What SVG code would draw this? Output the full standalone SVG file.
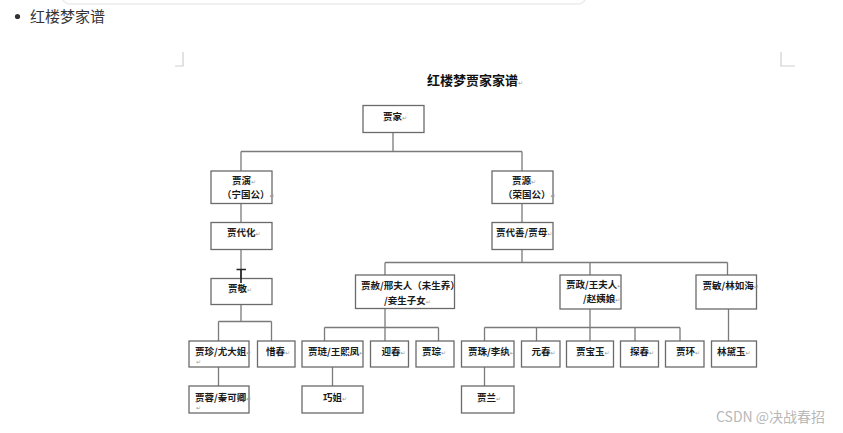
<svg xmlns="http://www.w3.org/2000/svg" width="843" height="433" viewBox="0 0 843 433">
<style>
.box{fill:#fff;stroke:#6a6a6a;stroke-width:1.3}
.ln{fill:none;stroke:#7a7a7a;stroke-width:1.3}
.t{font-family:"Noto Sans CJK SC","Noto Sans",sans-serif;font-size:9.5px;font-weight:700;fill:#1a1a1a}
.pm{font-family:"DejaVu Sans",sans-serif;font-size:6px;font-weight:400;fill:#9a9a9a}
.mark{fill:none;stroke:#cfcfcf;stroke-width:1.2}
</style>
<rect width="843" height="433" fill="#fff"/>
<rect x="62" y="-24" width="524" height="28" rx="8" fill="#fff" stroke="#ececec" stroke-width="1.5"/>
<circle cx="17.5" cy="16.5" r="2.6" fill="#333"/>
<text x="30" y="22" font-family="'Noto Sans CJK SC',sans-serif" font-size="15" fill="#333">红楼梦家谱</text>
<path class="mark" d="M183,52 V66 H175"/>
<path class="mark" d="M781,52 V66 H795"/>
<text x="427" y="85" font-family="'Noto Sans CJK SC',sans-serif" font-size="13" font-weight="700" fill="#111">红楼梦贾家家谱<tspan class="pm">↵</tspan></text>

<g id="connectors">
<path class="ln" d="M393,132.5 V151.5 M241,151.5 H522 M241,151.5 V171 M522,151.5 V171"/>
<path class="ln" d="M241,203.5 V222.5 M522,203.5 V222.5 M241,249.5 V278.5 M522,249.5 V262.5"/>
<path class="ln" d="M385,262.5 H727.5 M385,262.5 V275 M590,262.5 V275 M727.5,262.5 V275"/>
<path class="ln" d="M241,304.5 V321.5 M218.5,321.5 H271.5 M218.5,321.5 V341 M271.5,321.5 V341 M218.5,367 V386"/>
<path class="ln" d="M385,308.5 V341 M324.5,327.5 H438.5 M324.5,327.5 V341 M438.5,327.5 V341 M332.5,367 V386"/>
<path class="ln" d="M590,309 V341 M484.5,327.5 H680 M484.5,327.5 V341 M536.5,327.5 V341 M635,327.5 V341 M680,327.5 V341 M484.5,367 V386"/>
<path class="ln" d="M728.5,309 V341"/>
</g>

<g id="jia_jia"><rect class="box" x="363" y="105.5" width="61" height="27"/><text class="t" x="383" y="119.5">贾家<tspan class="pm">↵</tspan></text></g>
<g id="jia_yan"><rect class="box" x="211" y="171" width="61" height="32.5"/><text class="t" x="232" y="184">贾演<tspan class="pm">↵</tspan></text><text class="t" x="222" y="197.5">（宁国公）<tspan class="pm">↵</tspan></text></g>
<g id="jia_yuan"><rect class="box" x="492" y="171" width="61" height="32.5"/><text class="t" x="512" y="184">贾源<tspan class="pm">↵</tspan></text><text class="t" x="503" y="197.5">（荣国公）<tspan class="pm">↵</tspan></text></g>
<g id="jia_daihua"><rect class="box" x="211" y="222.5" width="61" height="27"/><text class="t" x="227" y="236">贾代化<tspan class="pm">↵</tspan></text></g>
<g id="jia_daishan"><rect class="box" x="492" y="222.5" width="61" height="27"/><text class="t" x="496" y="236">贾代善/贾母<tspan class="pm">↵</tspan></text></g>
<g id="jia_jing"><rect class="box" x="211" y="278.5" width="61" height="26"/><text class="t" x="228" y="291.5">贾敬<tspan class="pm">↵</tspan></text></g>
<g id="cursor"><path d="M236.5,269.5 H246 M241,269.5 V283" fill="none" stroke="#222" stroke-width="1.6"/></g>
<g id="jia_she"><rect class="box" x="355.5" y="275" width="99" height="33.5"/><text class="t" x="361" y="288.5">贾赦/邢夫人（未生养）</text><text class="t" x="384" y="303.5">/妾生子女<tspan class="pm">↵</tspan></text></g>
<g id="jia_zheng"><rect class="box" x="560" y="275" width="61" height="34"/><text class="t" x="566" y="288">贾政/王夫人<tspan class="pm">↵</tspan></text><text class="t" x="583" y="302">/赵姨娘<tspan class="pm">↵</tspan></text></g>
<g id="jia_min"><rect class="box" x="696" y="275" width="60.5" height="34"/><text class="t" x="702.5" y="288.5">贾敏/林如海<tspan class="pm">↵</tspan></text></g>
<g id="jia_zhen"><rect class="box" x="189" y="341" width="60" height="26"/><text class="t" x="195" y="354.5">贾珍/尤大姐<tspan class="pm">↵</tspan></text><text class="pm" x="196" y="364">↵</text></g>
<g id="xichun"><rect class="box" x="257.5" y="341" width="37.5" height="26"/><text class="t" x="266" y="354.5">惜春<tspan class="pm">↵</tspan></text></g>
<g id="jia_rong"><rect class="box" x="189" y="386" width="60" height="27"/><text class="t" x="195" y="401">贾蓉/秦可卿<tspan class="pm">↵</tspan></text><text class="pm" x="196" y="410">↵</text></g>
<g id="jia_lian"><rect class="box" x="302" y="341" width="61" height="26"/><text class="t" x="308" y="354.5">贾琏/王熙凤<tspan class="pm">↵</tspan></text></g>
<g id="yingchun"><rect class="box" x="370.5" y="341" width="38" height="26"/><text class="t" x="381.5" y="354.5">迎春<tspan class="pm">↵</tspan></text></g>
<g id="jia_cong"><rect class="box" x="416" y="341" width="38" height="26"/><text class="t" x="422" y="354.5">贾琮<tspan class="pm">↵</tspan></text></g>
<g id="qiaojie"><rect class="box" x="302" y="386" width="61" height="27"/><text class="t" x="323" y="401">巧姐<tspan class="pm">↵</tspan></text></g>
<g id="jia_zhu"><rect class="box" x="461.5" y="341" width="52.5" height="26"/><text class="t" x="468" y="354.5">贾珠/李纨<tspan class="pm">↵</tspan></text></g>
<g id="yuanchun"><rect class="box" x="521.5" y="341" width="38.5" height="26"/><text class="t" x="531.5" y="354.5">元春<tspan class="pm">↵</tspan></text></g>
<g id="baoyu"><rect class="box" x="566.5" y="341" width="47" height="26"/><text class="t" x="576" y="354.5">贾宝玉<tspan class="pm">↵</tspan></text></g>
<g id="tanchun"><rect class="box" x="620.5" y="341" width="38" height="26"/><text class="t" x="630" y="354.5">探春<tspan class="pm">↵</tspan></text></g>
<g id="jia_huan"><rect class="box" x="665.5" y="341" width="38.5" height="26"/><text class="t" x="676" y="354.5">贾环<tspan class="pm">↵</tspan></text></g>
<g id="daiyu"><rect class="box" x="711.5" y="341" width="45" height="26"/><text class="t" x="717" y="354.5">林黛玉<tspan class="pm">↵</tspan></text></g>
<g id="jia_lan"><rect class="box" x="461.5" y="386" width="52.5" height="27"/><text class="t" x="477" y="401">贾兰<tspan class="pm">↵</tspan></text></g>

<text x="716" y="422" font-family="'Noto Sans CJK SC',sans-serif" font-size="14" fill="#b8b8b8">CSDN @决战春招</text>
</svg>
